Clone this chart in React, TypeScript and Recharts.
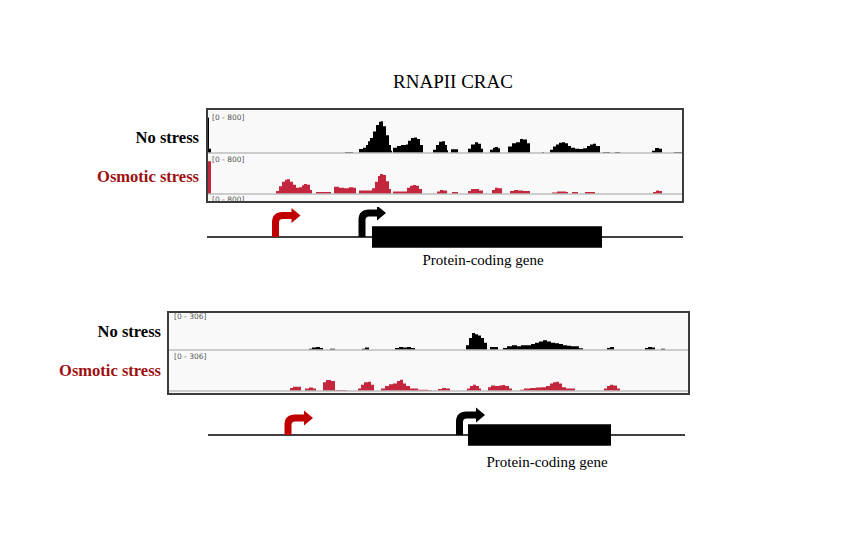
import React from 'react';
import {
  AreaChart,
  Area,
  XAxis,
  YAxis,
  ReferenceLine,
  ComposedChart,
  Line,
  ReferenceArea,
  ReferenceDot,
} from 'recharts';

// ---------- text ----------
const TITLE = 'RNAPII CRAC';
const CONDITIONS = ['No stress', 'Osmotic stress'];
const GENE_LABEL = 'Protein-coding gene';
const TOP_RANGE_LABEL = '[0 - 800]';
const BOTTOM_RANGE_LABEL = '[0 - 306]';

// ---------- data: [position, reads] (step coverage) ----------
const TOP_MAX = 800;
const TOP_SPAN = 476;
const topNoStress: [number, number][] = [
  [0, 660], [2, 80], [4, 0],
  [138, 20], [146, 0],
  [152, 75], [156, 100], [159, 150], [161, 220], [163, 280], [166, 400], [169, 520], [172, 580], [174, 590], [176, 500], [179, 330], [182, 150], [184, 40], [185, 0],
  [186, 100], [190, 130], [194, 150], [199, 160], [201, 230], [204, 280], [207, 290], [210, 260], [213, 150], [216, 0],
  [226, 60], [229, 150], [232, 210], [235, 220], [238, 150], [240, 50], [241, 0],
  [244, 70], [251, 0],
  [261, 80], [264, 160], [268, 200], [271, 170], [274, 80], [276, 0],
  [283, 60], [286, 100], [288, 110], [291, 90], [293, 0],
  [301, 120], [305, 180], [309, 200], [313, 260], [316, 250], [320, 180], [323, 0],
  [335, 20], [337, 0],
  [343, 60], [346, 120], [349, 160], [352, 190], [355, 200], [358, 180], [361, 130], [364, 100], [368, 80], [372, 75], [376, 90], [380, 130], [383, 160], [386, 170], [389, 130], [393, 0],
  [396, 20], [403, 0], [408, 20], [413, 0],
  [445, 40], [448, 95], [452, 80], [455, 0],
  [467, 20], [476, 0],
];
const topOsmotic: [number, number][] = [
  [0, 640], [4, 0],
  [69, 60], [72, 150], [75, 240], [78, 280], [80, 290], [83, 240], [86, 180], [89, 120], [92, 130], [95, 170], [97, 195], [100, 180], [103, 80], [105, 0],
  [109, 40], [124, 0],
  [127, 140], [132, 120], [137, 110], [142, 130], [146, 120], [149, 0],
  [152, 70], [165, 110], [168, 240], [171, 350], [173, 390], [176, 370], [179, 250], [182, 100], [184, 0],
  [186, 50], [200, 120], [203, 160], [206, 175], [209, 160], [212, 100], [215, 0],
  [230, 50], [233, 80], [236, 70], [240, 0],
  [245, 40], [251, 0],
  [261, 60], [264, 100], [268, 100], [272, 70], [276, 0],
  [285, 80], [288, 120], [291, 110], [295, 0],
  [303, 60], [307, 80], [311, 70], [316, 60], [323, 0],
  [345, 30], [350, 50], [355, 50], [359, 40], [361, 0],
  [365, 40], [371, 0],
  [378, 40], [388, 0],
  [446, 40], [449, 70], [452, 60], [455, 0],
];

const BOTTOM_MAX = 306;
const BOTTOM_SPAN = 520;
const bottomNoStress: [number, number][] = [
  [141, 10], [144, 20], [148, 24], [152, 16], [155, 0],
  [162, 10], [167, 0],
  [194, 10], [197, 20], [201, 0],
  [227, 16], [231, 24], [235, 20], [239, 24], [243, 16], [247, 0],
  [298, 40], [301, 100], [304, 140], [307, 130], [310, 120], [313, 100], [316, 60], [319, 0],
  [322, 24], [330, 0],
  [335, 16], [339, 30], [344, 40], [349, 30], [353, 40], [358, 40], [363, 50], [367, 60], [371, 70], [375, 80], [379, 70], [383, 60], [387, 55], [391, 50], [395, 40], [399, 35], [403, 30], [407, 30], [411, 15], [415, 0],
  [439, 16], [442, 25], [446, 0],
  [477, 16], [480, 25], [484, 20], [487, 0],
  [493, 10], [497, 0],
];
const bottomOsmotic: [number, number][] = [
  [122, 24], [125, 34], [129, 34], [133, 0],
  [137, 20], [141, 28], [145, 20], [148, 0],
  [155, 70], [158, 88], [163, 80], [167, 8], [179, 0],
  [190, 20], [193, 50], [196, 70], [200, 74], [203, 50], [206, 0],
  [213, 20], [217, 40], [221, 55], [225, 60], [229, 80], [232, 90], [235, 60], [238, 40], [242, 20], [246, 20], [250, 10], [254, 10], [260, 6], [264, 0],
  [270, 16], [274, 24], [278, 20], [282, 0],
  [299, 20], [302, 40], [305, 50], [308, 40], [311, 20], [313, 0],
  [320, 30], [323, 45], [327, 40], [331, 45], [334, 48], [337, 40], [341, 20], [344, 0],
  [352, 10], [356, 20], [362, 24], [368, 28], [373, 30], [378, 40], [382, 60], [385, 70], [388, 75], [391, 60], [394, 30], [398, 20], [402, 20], [407, 0],
  [436, 20], [439, 40], [442, 50], [445, 45], [449, 20], [452, 0],
];

// ---------- gene models ----------
const topGene = { span: 476, upstreamTss: 68.5, geneTss: 155, geneStart: 165, geneEnd: 395 };
const bottomGene = { span: 477, upstreamTss: 80, geneTss: 251.5, geneStart: 260, geneEnd: 403 };

const BLACK = '#000000';
const TRACK_RED = '#c4273d';
const ARROW_RED = '#c00000';
const LABEL_RED = '#9e0f0f';

const toRows = (pts: [number, number][]) => pts.map(([pos, v]) => ({ pos, v }));

function Track({ points, max, span, color, width, height }: any) {
  return (
    <AreaChart
      width={width}
      height={height}
      data={toRows(points)}
      margin={{ top: 0, right: 0, bottom: 1, left: 0 }}
    >
      <XAxis dataKey="pos" type="number" domain={[0, span]} hide />
      <YAxis type="number" domain={[0, max]} hide allowDataOverflow />
      <ReferenceLine y={0} stroke="#bdbdbd" strokeWidth={1.5} />
      <Area
        dataKey="v"
        type="stepAfter"
        stroke="none"
        fill={color}
        fillOpacity={1}
        dot={false}
        activeDot={false}
        isAnimationActive={false}
      />
    </AreaChart>
  );
}

const arrowShape = (color: string, rise: number, len: number) => (props: any) => {
  const { cx, cy } = props;
  const r = 7;
  const y = cy - rise;
  return (
    <g>
      <path
        d={`M${cx},${cy} L${cx},${y + r} Q${cx},${y} ${cx + r},${y} L${cx + len + 1},${y}`}
        stroke={color}
        strokeWidth={7}
        fill="none"
      />
      <polygon
        points={`${cx + len},${y - 7.5} ${cx + len + 9},${y} ${cx + len},${y + 7.5}`}
        fill={color}
      />
    </g>
  );
};

function GeneModel({ gene, width, arrows }: any) {
  const line = [
    { pos: 0, y: 0 },
    { pos: gene.span, y: 0 },
  ];
  return (
    <ComposedChart width={width} height={60} data={line} margin={{ top: 0, right: 0, bottom: 0, left: 0 }}>
      <XAxis dataKey="pos" type="number" domain={[0, gene.span]} hide />
      <YAxis type="number" domain={[-1, 1]} hide />
      <Line dataKey="y" stroke={BLACK} strokeWidth={1.5} dot={false} isAnimationActive={false} />
      <ReferenceArea x1={gene.geneStart} x2={gene.geneEnd} y1={-0.36} y2={0.36} fill={BLACK} fillOpacity={1} stroke="none" />
      <ReferenceDot x={gene.upstreamTss} y={0} shape={arrowShape(ARROW_RED, arrows.red.rise, arrows.red.len)} />
      <ReferenceDot x={gene.geneTss} y={0} shape={arrowShape(BLACK, arrows.black.rise, arrows.black.len)} />
    </ComposedChart>
  );
}

const serif = '"Liberation Serif", "Times New Roman", serif';
const abs = (left: number, top: number, extra: any = {}) => ({ position: 'absolute' as const, left, top, ...extra });

function RangeLabel({ left, top, text }: any) {
  return (
    <div style={abs(left, top, { fontFamily: '"DejaVu Sans", Arial, sans-serif', fontSize: 7.5, color: '#555', lineHeight: '9px', whiteSpace: 'nowrap' })}>
      {text}
    </div>
  );
}

function CondLabel({ right, centerY, text, color }: any) {
  return (
    <div
      style={abs(0, centerY - 10, {
        width: right,
        textAlign: 'right',
        fontFamily: serif,
        fontWeight: 'bold',
        fontSize: 16.5,
        lineHeight: '20px',
        color,
        whiteSpace: 'nowrap',
      })}
    >
      {text}
    </div>
  );
}

export default function App() {
  return (
    <div style={abs(0, 0, { width: 858, height: 544, background: '#ffffff', overflow: 'hidden' })}>
      <div style={abs(353, 71, { width: 200, textAlign: 'center', fontFamily: serif, fontSize: 19, lineHeight: '22px', color: '#000' })}>
        {TITLE}
      </div>

      {/* top panel */}
      <div style={abs(206, 108, { width: 478, height: 95, background: '#f9f9f9' })} />
      <div style={abs(207, 110)}>
        <Track points={topNoStress} max={TOP_MAX} span={TOP_SPAN} color={BLACK} width={476} height={44} />
      </div>
      <div style={abs(207, 153)}>
        <Track points={topOsmotic} max={TOP_MAX} span={TOP_SPAN} color={TRACK_RED} width={476} height={42} />
      </div>
      <div style={abs(206, 108, { width: 478, height: 95, overflow: 'hidden' })}>
        <RangeLabel left={6} top={5} text={TOP_RANGE_LABEL} />
        <RangeLabel left={6} top={47} text={TOP_RANGE_LABEL} />
        <RangeLabel left={6} top={87} text={TOP_RANGE_LABEL} />
      </div>
      <div style={abs(206, 108, { width: 478, height: 95, border: '2px solid #3c3c3c', boxSizing: 'border-box' })} />
      <CondLabel right={199} centerY={138} text={CONDITIONS[0]} color="#000" />
      <CondLabel right={199} centerY={177} text={CONDITIONS[1]} color={LABEL_RED} />

      <div style={abs(207, 207)}>
        <GeneModel gene={topGene} width={476} arrows={{ red: { rise: 21.5, len: 16 }, black: { rise: 24, len: 15 } }} />
      </div>
      <div style={abs(383, 250, { width: 200, textAlign: 'center', fontFamily: serif, fontSize: 15, lineHeight: '20px', color: '#000' })}>
        {GENE_LABEL}
      </div>

      {/* bottom panel */}
      <div style={abs(167, 311, { width: 523, height: 84, background: '#f9f9f9' })} />
      <div style={abs(168, 313)}>
        <Track points={bottomNoStress} max={BOTTOM_MAX} span={BOTTOM_SPAN} color={BLACK} width={520} height={38} />
      </div>
      <div style={abs(168, 353)}>
        <Track points={bottomOsmotic} max={BOTTOM_MAX} span={BOTTOM_SPAN} color={TRACK_RED} width={520} height={39} />
      </div>
      <div style={abs(167, 311, { width: 523, height: 84, overflow: 'hidden' })}>
        <RangeLabel left={7} top={1} text={BOTTOM_RANGE_LABEL} />
        <RangeLabel left={7} top={41} text={BOTTOM_RANGE_LABEL} />
      </div>
      <div style={abs(167, 311, { width: 523, height: 84, border: '2px solid #3c3c3c', boxSizing: 'border-box' })} />
      <CondLabel right={161} centerY={332} text={CONDITIONS[0]} color="#000" />
      <CondLabel right={161} centerY={371} text={CONDITIONS[1]} color={LABEL_RED} />

      <div style={abs(208, 405)}>
        <GeneModel gene={bottomGene} width={477} arrows={{ red: { rise: 17, len: 16 }, black: { rise: 20, len: 16.5 } }} />
      </div>
      <div style={abs(447, 452, { width: 200, textAlign: 'center', fontFamily: serif, fontSize: 15, lineHeight: '20px', color: '#000' })}>
        {GENE_LABEL}
      </div>
    </div>
  );
}
